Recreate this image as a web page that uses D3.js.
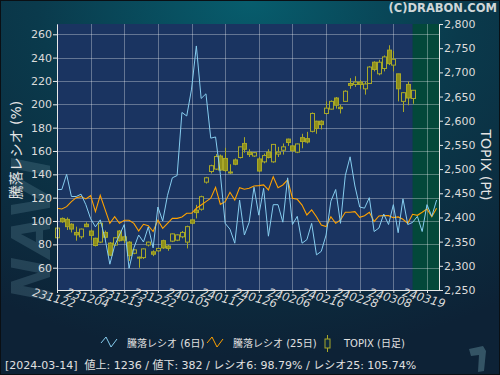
<!DOCTYPE html>
<html>
<head>
<meta charset="utf-8">
<script src="https://cdn.jsdelivr.net/npm/d3@7"></script>
<style>
body { margin: 0; background: #0c2236; }
svg { display: block; }
text { font-family: "DejaVu Sans", "Noto Sans CJK JP", sans-serif; }
</style>
</head>
<body>
<svg id="chart" width="500" height="375"></svg>
<script>
// ----- data (trading-day index 0 = 2023-11-22)
var xTickIdx = [0, 7, 14, 21, 28, 35, 42, 49, 56, 63, 70, 77];
var xLabels = ["231122", "231204", "231213", "231222", "240105", "240117",
               "240126", "240206", "240216", "240228", "240308", "240319"];
var leftTicks = [60, 80, 100, 120, 140, 160, 180, 200, 220, 240, 260];
var rightTicks = [2250, 2300, 2350, 2400, 2450, 2500, 2550, 2600, 2650, 2700, 2750, 2800];

// 騰落レシオ (6日)
var ratio6 = [127, 127, 140, 121, 121, 123, 114, 102, 95, 101,
              85, 63, 79, 88, 97, 59.5, 77, 88, 82, 95,
              77, 112, 100, 122, 137, 139, 193, 190, 213, 250,
              205, 209, 171, 172, 140, 98, 93, 81, 118, 88,
              99, 129, 105, 128, 87, 114, 114, 99, 137, 97,
              104, 81, 84, 98, 71, 74, 88, 117, 127, 98,
              139, 155, 130, 112, 111, 120, 91, 94, 106, 97,
              114, 90, 119, 97, 98.79, 104, 91, 114, 104, 118];

// 騰落レシオ (25日)
var ratio25 = [110.9, 110.3, 112.3, 116.6, 120, 120.9, 118.9, 121.7, 108, 122,
               110, 98, 103.7, 98, 100.6, 100.6, 98, 91.5, 97.2, 96,
               91, 100.6, 93.7, 98, 102.3, 102.3, 103.5, 106.6, 106.6, 110.9,
               113.7, 116.6, 119.5, 128.9, 114.3, 116.6, 124.6, 118, 128.6, 127.2,
               128, 130, 130.3, 130.9, 126.6, 138, 128.6, 130.9, 135.2, 119.5,
               118.6, 113.7, 105.2, 109.5, 103.7, 96.6, 95.2, 103.7, 98, 100.9,
               107.5, 107.5, 108, 103.2, 104.6, 107.5, 99.5, 104.3, 104.6, 104.6,
               102.9, 103.5, 101.5, 98, 105.74, 104.9, 107.5, 110.3, 103.7, 110.9];

// TOPIX daily candles
var topixOpen = [2358, 2398, 2396, 2386, 2369, 2360, 2386, 2372, 2357, 2349,
                 2369, 2347, 2343, 2372, 2360, 2349, 2326, 2318, 2317, 2343,
                 2329, 2331, 2352, 2341, 2351, 2353, 2360, 2349, 2395, 2415,
                 2417, 2473, 2495, 2500, 2527, 2522, 2494, 2519, 2524, 2553,
                 2535, 2527, 2521, 2515, 2535, 2515, 2531, 2539, 2562, 2548,
                 2535, 2565, 2563, 2578, 2599, 2599, 2615, 2624, 2647, 2628,
                 2640, 2677, 2675, 2680, 2666, 2677, 2721, 2697, 2708, 2746,
                 2715, 2697, 2640, 2675, 2646];
var topixHigh = [2380, 2400, 2400, 2388, 2381, 2377, 2390, 2375, 2358, 2390,
                 2373, 2349, 2359, 2374, 2362, 2351, 2334, 2319, 2336, 2350,
                 2332, 2337, 2354, 2343, 2367, 2365, 2372, 2383, 2397, 2426,
                 2445, 2484, 2509, 2531, 2530, 2544, 2510, 2522, 2547, 2566,
                 2541, 2535, 2525, 2532, 2541, 2552, 2546, 2553, 2563, 2549,
                 2553, 2573, 2577, 2617, 2600, 2601, 2640, 2642, 2649, 2633,
                 2663, 2688, 2692, 2684, 2681, 2713, 2723, 2726, 2735, 2756,
                 2744, 2697, 2659, 2681, 2663];
var topixLow = [2356, 2389, 2374, 2369, 2352, 2356, 2380, 2353, 2340, 2347,
                2355, 2320, 2341, 2350, 2347, 2310, 2324, 2296, 2314, 2340,
                2320, 2329, 2335, 2331, 2349, 2351, 2357, 2336, 2386, 2398,
                2414, 2470, 2491, 2498, 2496, 2494, 2490, 2508, 2522, 2534,
                2525, 2525, 2494, 2512, 2522, 2513, 2525, 2530, 2548, 2535,
                2533, 2543, 2553, 2576, 2573, 2582, 2613, 2623, 2625, 2615,
                2639, 2666, 2670, 2666, 2654, 2676, 2702, 2694, 2702, 2715,
                2702, 2640, 2618, 2632, 2635];
var topixClose = [2378, 2391, 2381, 2376, 2364, 2376, 2381, 2363, 2342, 2388,
                  2359, 2322, 2358, 2352, 2353, 2321, 2333, 2316, 2335, 2349,
                  2324, 2336, 2337, 2336, 2366, 2364, 2369, 2381, 2388, 2410,
                  2443, 2482, 2507, 2526, 2498, 2497, 2492, 2510, 2546, 2541,
                  2530, 2534, 2496, 2528, 2524, 2551, 2535, 2546, 2555, 2538,
                  2552, 2557, 2556, 2615, 2584, 2592, 2626, 2640, 2632, 2625,
                  2661, 2673, 2680, 2675, 2676, 2711, 2706, 2721, 2732, 2718,
                  2727, 2666, 2658, 2647, 2663];

var footerText = "[2024-03-14]  値上: 1236 / 値下: 382 / レシオ6: 98.79% / レシオ25: 105.74%";

// ----- layout
var svg = d3.select("#chart");
var W = 500, H = 375;
var plot = { left: 57, right: 439, top: 24, bottom: 290 };
var lastIdx = topixClose.length - 1;

var x = d3.scaleLinear().domain([0, 79.5]).range([plot.left, plot.right]);
var yL = d3.scaleLinear().domain([40.9, 268.8]).range([plot.bottom, plot.top]);
var yR = d3.scaleLinear().domain([2250, 2800]).range([plot.bottom, plot.top]);

// background
var defs = svg.append("defs");
var bg = defs.append("radialGradient").attr("id", "bg")
    .attr("cx", "50%").attr("cy", "0%").attr("r", "95%");
bg.append("stop").attr("offset", "0%").attr("stop-color", "#075d6d");
bg.append("stop").attr("offset", "45%").attr("stop-color", "#0a3a4c");
bg.append("stop").attr("offset", "100%").attr("stop-color", "#0d2236");
svg.append("rect").attr("width", W).attr("height", H).attr("fill", "url(#bg)");

// watermark logo text (left)
svg.append("text")
    .attr("transform", "translate(50,302) rotate(-90)")
    .attr("font-size", 54).attr("font-weight", "bold").attr("font-style", "italic")
    .attr("fill", "#5d8596").attr("opacity", 0.3)
    .text("NAVI");

svg.append("rect").attr("x", 0.5).attr("y", 0.5).attr("width", W - 1).attr("height", H - 1)
    .attr("fill", "none").attr("stroke", "#0a0f14");

// plot background + future zone
svg.append("rect").attr("x", plot.left).attr("y", plot.top)
    .attr("width", plot.right - plot.left).attr("height", plot.bottom - plot.top)
    .attr("fill", "#1a3461");
svg.append("rect").attr("x", x(lastIdx)).attr("y", plot.top)
    .attr("width", plot.right - x(lastIdx)).attr("height", plot.bottom - plot.top)
    .attr("fill", "#03483a");

// grid
var grid = svg.append("g").attr("stroke", "#ffffff").attr("stroke-opacity", 0.32).attr("stroke-width", 1);
grid.selectAll(".gh").data(leftTicks).enter().append("line")
    .attr("x1", plot.left).attr("x2", plot.right)
    .attr("y1", function (d) { return Math.round(yL(d)) + 0.5; })
    .attr("y2", function (d) { return Math.round(yL(d)) + 0.5; });
grid.selectAll(".gv").data(xTickIdx).enter().append("line")
    .attr("y1", plot.top).attr("y2", plot.bottom)
    .attr("x1", function (d) { return Math.round(x(d)) + 0.5; })
    .attr("x2", function (d) { return Math.round(x(d)) + 0.5; });

// candles
var candleColor = "#a8a828";
var candles = svg.append("g").selectAll("g").data(topixClose).enter().append("g");
candles.append("line")
    .attr("x1", function (d, i) { return Math.round(x(i)) + 0.5; })
    .attr("x2", function (d, i) { return Math.round(x(i)) + 0.5; })
    .attr("y1", function (d, i) { return yR(topixHigh[i]); })
    .attr("y2", function (d, i) { return yR(topixLow[i]); })
    .attr("stroke", candleColor);
candles.append("rect")
    .attr("x", function (d, i) { return Math.round(x(i)) - 1.5; })
    .attr("width", 4)
    .attr("y", function (d, i) { return yR(Math.max(topixOpen[i], topixClose[i])); })
    .attr("height", function (d, i) { return Math.max(1, Math.abs(yR(topixOpen[i]) - yR(topixClose[i]))); })
    .attr("fill", function (d, i) { return topixClose[i] >= topixOpen[i] ? "#1a3461" : "#8f8f1c"; })
    .attr("stroke", candleColor);

// ratio lines
var line = d3.line()
    .x(function (d, i) { return x(i); })
    .y(function (d) { return yL(d); });
svg.append("path").datum(ratio25)
    .attr("d", line).attr("fill", "none").attr("stroke", "#ffa200").attr("stroke-width", 1.1);
svg.append("path").datum(ratio6)
    .attr("d", line).attr("fill", "none").attr("stroke", "#86cdef").attr("stroke-width", 1);

// axes
function styleAxis(g) {
    g.select(".domain").attr("stroke", "#e8e8e8");
    g.selectAll(".tick line").attr("stroke", "#e8e8e8");
    g.selectAll(".tick text").attr("fill", "#dcdcdc").attr("font-size", 11)
        .attr("font-family", "DejaVu Sans, sans-serif");
}
svg.append("g").attr("transform", "translate(" + plot.left + ",0)")
    .call(d3.axisLeft(yL).tickValues(leftTicks).tickSize(4).tickPadding(1).tickSizeOuter(0))
    .call(styleAxis);
svg.append("g").attr("transform", "translate(" + plot.right + ",0)")
    .call(d3.axisRight(yR).tickValues(rightTicks).tickSize(4).tickPadding(1)
        .tickFormat(d3.format(",")).tickSizeOuter(0))
    .call(styleAxis);
var xAxis = svg.append("g").attr("transform", "translate(0," + plot.bottom + ")")
    .call(d3.axisBottom(x).tickValues(xTickIdx).tickSize(3).tickSizeOuter(0)
        .tickFormat(function (d, i) { return xLabels[i]; }))
    .call(styleAxis);
xAxis.selectAll(".tick text")
    .attr("font-style", "italic").attr("font-size", 11.5)
    .attr("text-anchor", "middle").attr("dy", 0)
    .attr("transform", "translate(-3,6) rotate(16)");

// axis titles
svg.append("text")
    .attr("transform", "translate(21,150) rotate(-90)")
    .attr("text-anchor", "middle").attr("fill", "#e4e4e4").attr("font-size", 14)
    .text("騰落レシオ (%)");
svg.append("text")
    .attr("transform", "translate(481,165) rotate(90)")
    .attr("text-anchor", "middle").attr("fill", "#e4e4e4").attr("font-size", 14)
    .text("TOPIX (Pt)");

// copyright
svg.append("text")
    .attr("x", 497).attr("y", 12).attr("text-anchor", "end")
    .attr("fill", "#cfd6d8").attr("font-size", 11.5).attr("font-weight", "bold")
    .text("(C)DRABON.COM");

// legend
var legend = svg.append("g").attr("font-size", 10).attr("fill", "#e0e0e0");
var zig = d3.line()([[101, 343], [106, 337], [111, 347], [117, 339]]);
legend.append("path").attr("d", zig).attr("fill", "none").attr("stroke", "#86cdef");
legend.append("text").attr("x", 127).attr("y", 347).text("騰落レシオ (6日)");
legend.append("path").attr("d", zig).attr("transform", "translate(106,0)")
    .attr("fill", "none").attr("stroke", "#ffa200");
legend.append("text").attr("x", 233).attr("y", 347).text("騰落レシオ (25日)");
legend.append("line").attr("x1", 327.5).attr("x2", 327.5).attr("y1", 335).attr("y2", 352)
    .attr("stroke", candleColor);
legend.append("rect").attr("x", 325).attr("y", 339).attr("width", 5).attr("height", 9)
    .attr("fill", "#0e2a3e").attr("stroke", candleColor);
legend.append("text").attr("x", 344).attr("y", 347).text("TOPIX (日足)");

// footer
svg.append("text").attr("x", 5).attr("y", 369)
    .attr("fill", "#e0e0e0").attr("font-size", 11).attr("xml:space", "preserve")
    .text(footerText);

// small logo mark (bottom right)
svg.append("path")
    .attr("d", "M469,349 L483,346 L486,351 L484,371 L478,372 L479,355 L471,356 Z")
    .attr("fill", "#3e6172").attr("opacity", 0.8);
</script>
</body>
</html>
